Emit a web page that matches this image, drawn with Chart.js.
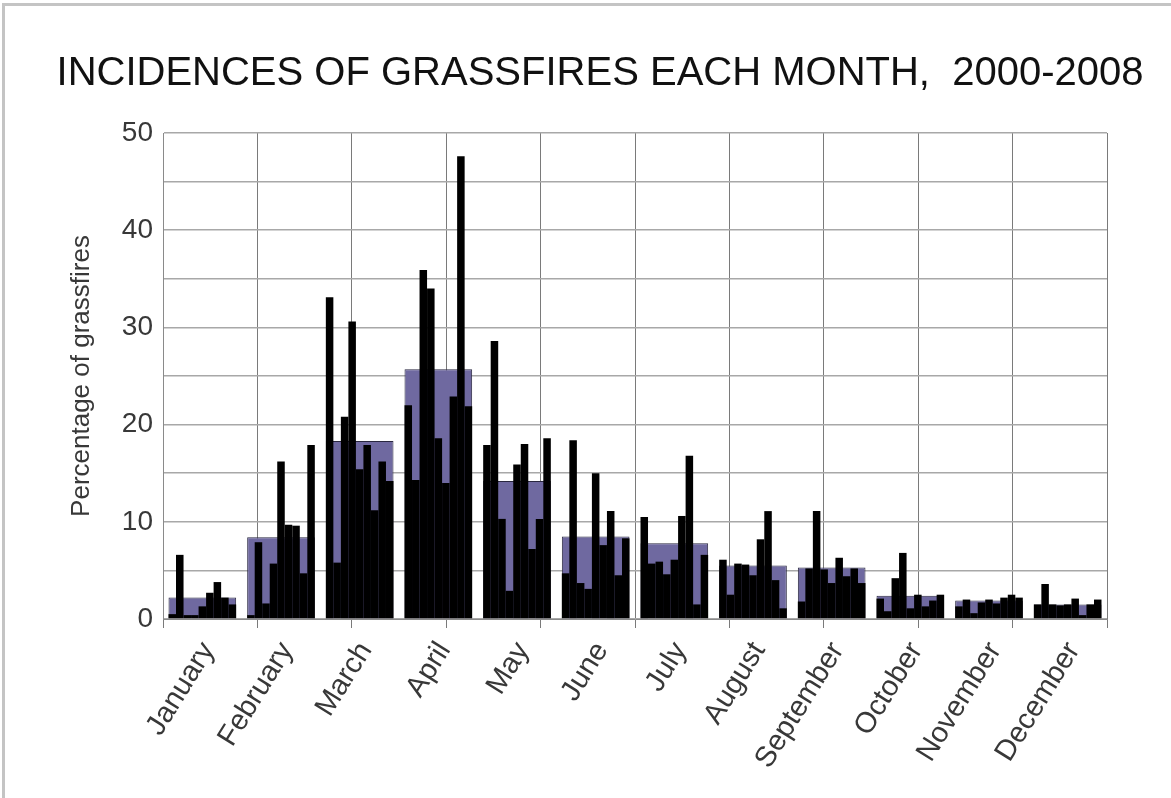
<!DOCTYPE html>
<html>
<head>
<meta charset="utf-8">
<title>Grassfires each month</title>
<script src="https://cdn.jsdelivr.net/npm/chart.js@4.4.1/dist/chart.umd.min.js"></script>
<style>
  html, body { margin: 0; padding: 0; background: #fff; }
  #wrap { position: relative; width: 1171px; height: 798px; }
  #frame {
    position: absolute; left: 2px; top: 3px; right: 0; bottom: 0;
    border-top: 3px solid #c4c4c4; border-left: 3px solid #c4c4c4;
    pointer-events: none;
  }
</style>
</head>
<body>
<div id="wrap">
  <canvas id="fireChart" width="1171" height="798"></canvas>
  <div id="frame"></div>
</div>
<script>
// Share of grassfires (%) falling in each month, one series per year
const months = ['January', 'February', 'March', 'April', 'May', 'June',
  'July', 'August', 'September', 'October', 'November', 'December'];

const y2000 = [0.5, 0.4, 33.1, 22.0, 17.9, 4.7, 10.5, 6.1, 1.8, 2.1, 1.3, 1.5];
const y2001 = [6.6, 7.9, 5.8, 14.3, 28.6, 18.4, 5.7, 2.5, 5.2, 0.8, 2.0, 3.6];
const y2002 = [0.4, 1.6, 20.8, 35.9, 10.3, 3.7, 5.9, 5.7, 11.1, 4.2, 0.6, 1.5];
const y2003 = [0.4, 5.7, 30.6, 34.0, 2.9, 3.1, 4.6, 5.6, 5.1, 6.8, 1.7, 1.4];
const y2004 = [1.3, 16.2, 15.4, 18.6, 15.9, 15.0, 6.1, 4.5, 3.7, 1.1, 2.0, 1.5];
const y2005 = [2.7, 9.7, 17.9, 14.0, 18.0, 7.6, 10.6, 8.2, 6.3, 2.5, 1.6, 2.1];
const y2006 = [3.8, 9.6, 11.2, 22.9, 7.2, 11.1, 16.8, 11.1, 4.4, 1.3, 2.2, 0.4];
const y2007 = [2.2, 4.7, 16.2, 47.6, 10.3, 4.5, 1.5, 4.0, 5.2, 1.9, 2.5, 1.5];
const y2008 = [1.5, 17.9, 14.2, 21.9, 18.6, 8.3, 6.6, 1.1, 3.7, 2.5, 2.2, 2.0];

// 2000-2008 average per month (the wide purple bars)
const average = [2.2, 8.4, 18.3, 25.7, 14.2, 8.5, 7.8, 5.5, 5.3, 2.4, 1.9, 1.5];

const years = ['2000', '2001', '2002', '2003', '2004', '2005', '2006', '2007', '2008'];
const yearValues = [y2000, y2001, y2002, y2003, y2004, y2005, y2006, y2007, y2008];

const yTicks = [0, 10, 20, 30, 40, 50];

const GROUP = 0.86;
const TEXT = '#383838';
const FONT = '"Liberation Sans", Arial, sans-serif';

const yearSets = years.map(function (yr, i) {
  return {
    label: yr,
    data: yearValues[i],
    backgroundColor: '#000000',
    borderWidth: 0,
    categoryPercentage: GROUP,
    barPercentage: 1.0,
    order: 0
  };
});

const avgSet = {
  label: 'Average',
  data: average,
  backgroundColor: '#6f69a0',
  borderColor: '#2a2840',
  borderWidth: 1,
  borderSkipped: 'bottom',
  grouped: false,
  categoryPercentage: GROUP,
  barPercentage: 1.0,
  order: 1
};

new Chart(document.getElementById('fireChart').getContext('2d'), {
  type: 'bar',
  data: {
    labels: months,
    datasets: yearSets.concat([avgSet])
  },
  options: {
    responsive: false,
    animation: false,
    layout: { padding: { left: 29, right: 0, top: 0, bottom: 0 } },
    plugins: {
      legend: { display: false },
      tooltip: { enabled: false },
      title: {
        display: true,
        text: 'INCIDENCES OF GRASSFIRES EACH MONTH,  2000-2008',
        color: '#111111',
        font: { family: FONT, size: 40, weight: 'normal' },
        padding: { top: 50, bottom: 35 }
      }
    },
    scales: {
      x: {
        type: 'category',
        position: 'bottom',
        weight: 1,
        grid: { display: false },
        border: { display: false },
        ticks: {
          color: TEXT,
          font: { family: FONT, size: 29 },
          minRotation: 58,
          maxRotation: 58,
          autoSkip: false,
          padding: 0,
          labelOffset: 6
        },
        afterFit: function (s) { s.height = 170; }
      },
      // ten evenly spaced vertical grid lines, independent of the months
      xg: {
        type: 'linear',
        position: 'bottom',
        weight: 0,
        min: 0,
        max: 10,
        offset: false,
        ticks: { display: false, stepSize: 1 },
        grid: { offset: false, color: '#7a7a7a', lineWidth: 1, tickLength: 9, drawTicks: true },
        border: { display: true, color: '#8a8a8a', width: 1 },
        afterFit: function (s) { s.height = 9; }
      },
      y: {
        min: 0,
        max: 50,
        ticks: {
          stepSize: 5,
          color: TEXT,
          padding: 10,
          font: { family: FONT, size: 28 },
          callback: function (v) { return yTicks.indexOf(v) >= 0 ? String(v) : ''; }
        },
        grid: { color: '#a8a8a8', lineWidth: 1.6, drawTicks: false },
        border: { display: true, color: '#8a8a8a', width: 1 },
        title: {
          display: true,
          text: 'Percentage of grassfires',
          color: TEXT,
          font: { family: FONT, size: 26 },
          padding: { top: 37, bottom: 0 }
        },
        afterFit: function (s) { s.width = 134; }
      },
      // empty right-hand box that fixes where the plot ends
      yr: {
        position: 'right',
        display: true,
        min: 0,
        max: 50,
        ticks: { display: false },
        grid: { display: false, drawOnChartArea: false },
        border: { display: false },
        afterFit: function (s) { s.width = 64; }
      }
    }
  }
});
</script>
</body>
</html>
